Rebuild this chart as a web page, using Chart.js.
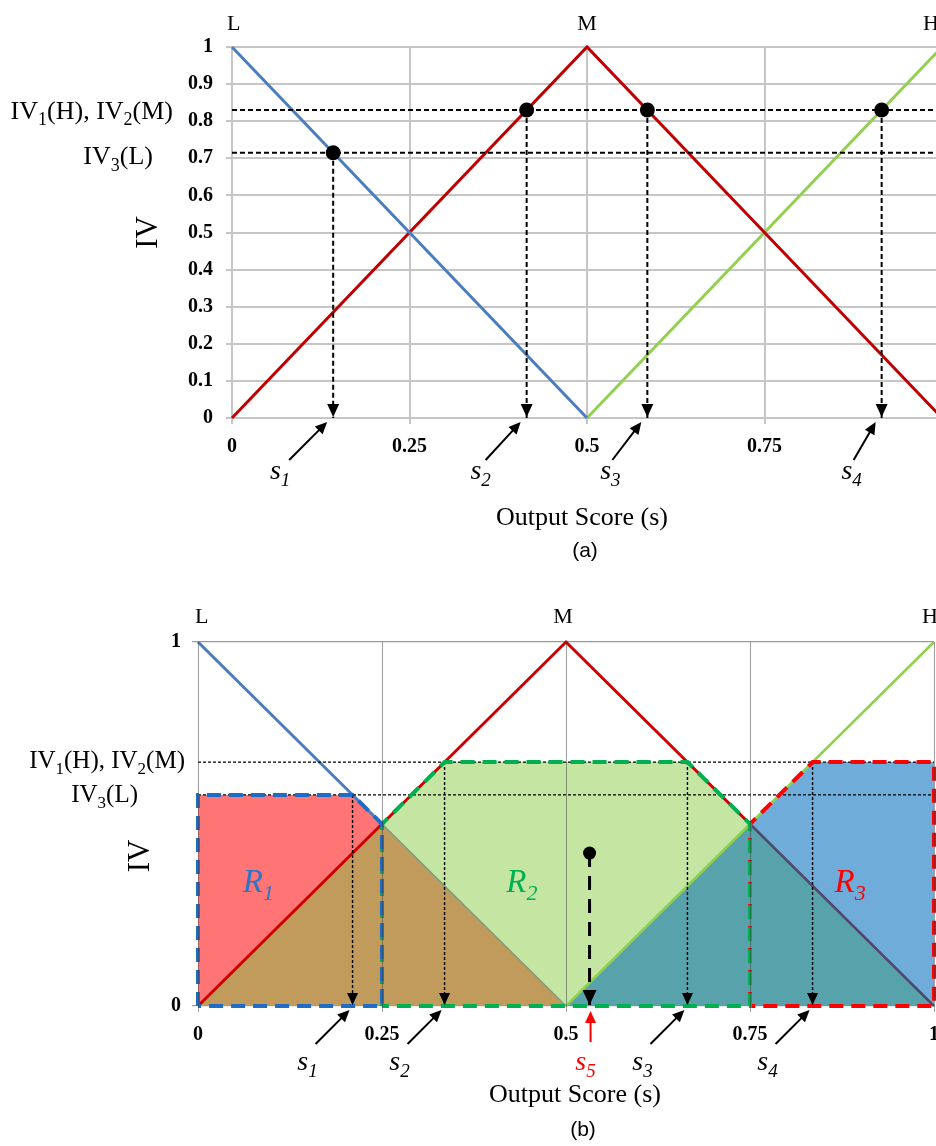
<!DOCTYPE html>
<html>
<head>
<meta charset="utf-8">
<script src="https://cdn.jsdelivr.net/npm/chart.js@4.4.1/dist/chart.umd.min.js"></script>
<style>
  html, body { margin: 0; padding: 0; background: #fff; overflow: hidden; width: 936px; height: 1146px; }
  canvas { position: absolute; left: 0; }
  #chart-a { top: 0; }
  #chart-b { top: 575px; }
</style>
</head>
<body>
<canvas id="chart-a" width="970" height="575"></canvas>
<canvas id="chart-b" width="970" height="571"></canvas>
<script>
'use strict';

// ── Axes ────────────────────────────────────────────────
const xTicks       = [0, 0.25, 0.5, 0.75, 1];
const xTickLabels  = ['0', '0.25', '0.5', '0.75', '1'];
const yTicksA      = [0, 0.1, 0.2, 0.3, 0.4, 0.5, 0.6, 0.7, 0.8, 0.9, 1];
const yTickLabelsA = ['0', '0.1', '0.2', '0.3', '0.4', '0.5', '0.6', '0.7', '0.8', '0.9', '1'];
const yTicksB      = [0, 1];
const yTickLabelsB = ['0', '1'];

// ── Membership functions (corner points, incl. crossings) ──
const setNames = ['L', 'M', 'H'];
const setPeaks = [0, 0.5, 1];
const lowX  = [0, 0.25, 0.5];       const lowY  = [1, 0.5, 0];
const midX  = [0, 0.5, 0.75, 1];    const midY  = [0, 1, 0.5, 0];
const highX = [0.5, 1];             const highY = [0, 1];

// ── Panel (a) ───────────────────────────────────────────
const ivA        = [0.83, 0.715];            // IV1(H)=IV2(M), IV3(L)
const scoreA     = [0.1425, 0.415, 0.585, 0.915];
const scoreIvA   = [0.715, 0.83, 0.83, 0.83];
const scoreSubA  = ['1', '2', '3', '4'];

// ── Panel (b) ───────────────────────────────────────────
const ivB        = [0.67, 0.58];
const scoreB     = [0.21, 0.335, 0.665, 0.835];
const scoreIvB   = [0.58, 0.67, 0.67, 0.67];
const scoreSubB  = ['1', '2', '3', '4'];
const centroidX  = 0.532;
const centroidY  = 0.42;

// rule regions R1..R3 (outline corners)
const r1X = [0, 0, 0.21, 0.25, 0.25, 0];             const r1Y = [0, 0.58, 0.58, 0.5, 0, 0];
const r2X = [0.25, 0.25, 0.335, 0.665, 0.75, 0.75, 0.25]; const r2Y = [0, 0.5, 0.67, 0.67, 0.5, 0, 0];
const r3X = [0.75, 0.75, 0.835, 1, 1, 0.75];         const r3Y = [0, 0.5, 0.67, 0.67, 0, 0];
const ruleNames  = ['1', '2', '3'];
const ruleLabelX = [0.082, 0.44, 0.886];
const ruleLabelY = [0.344, 0.344, 0.344];

// clipped memberships and their overlaps
const fillLowX  = [0, 0, 0.21, 0.5];      const fillLowY  = [0, 0.58, 0.58, 0];
const fillMidX  = [0, 0.335, 0.665, 1];   const fillMidY  = [0, 0.67, 0.67, 0];
const fillHighX = [0.5, 0.835, 1, 1];     const fillHighY = [0, 0.67, 0.67, 0];
const lapLMX    = [0, 0.25, 0.5];         const lapLMY    = [0, 0.5, 0];
const lapMHX    = [0.5, 0.75, 1];         const lapMHY    = [0, 0.5, 0];

// ── Helpers ─────────────────────────────────────────────
const SERIF = '"Liberation Serif", "Times New Roman", serif';
const pts = (xs, ys) => xs.map((x, i) => ({ x, y: ys[i] }));

function line(data, color, width, extra) {
  return Object.assign({
    data, borderColor: color, borderWidth: width, pointRadius: 0,
    fill: false, tension: 0, clip: false,
  }, extra || {});
}

function area(data, color, order) {
  return { data, backgroundColor: color, borderWidth: 0, pointRadius: 0, fill: 'origin', tension: 0, order };
}

function arrowHead(ctx, x, y, ang, len, half, color) {
  ctx.save();
  ctx.translate(x, y);
  ctx.rotate(ang);
  ctx.beginPath();
  ctx.moveTo(0, 0);
  ctx.lineTo(-len, -half);
  ctx.lineTo(-len, half);
  ctx.closePath();
  ctx.fillStyle = color;
  ctx.fill();
  ctx.restore();
}

function arrow(ctx, x0, y0, x1, y1, color, width) {
  const ang = Math.atan2(y1 - y0, x1 - x0);
  ctx.save();
  ctx.strokeStyle = color;
  ctx.lineWidth = width;
  ctx.setLineDash([]);
  ctx.beginPath();
  ctx.moveTo(x0, y0);
  ctx.lineTo(x1 - 8 * Math.cos(ang), y1 - 8 * Math.sin(ang));
  ctx.stroke();
  ctx.restore();
  arrowHead(ctx, x1, y1, ang, 12, 5.5, color);
}

// segs: [text, isSubscript]; y is the vertical centre of capitals
function drawRich(ctx, segs, x, y, size, align, color, italic) {
  const st = italic ? 'italic ' : '';
  const fontFor = sub => `${st}${sub ? Math.round(size * 0.68) : size}px ${SERIF}`;
  let total = 0;
  segs.forEach(([t, sub]) => { ctx.font = fontFor(sub); total += ctx.measureText(t).width; });
  let cx = align === 'right' ? x - total : align === 'center' ? x - total / 2 : x;
  ctx.fillStyle = color;
  ctx.textAlign = 'left';
  ctx.textBaseline = 'alphabetic';
  const base = y + size * 0.33;
  segs.forEach(([t, sub]) => {
    ctx.font = fontFor(sub);
    ctx.fillText(t, cx, base + (sub ? size * 0.24 : 0));
    cx += ctx.measureText(t).width;
  });
}

function drawText(ctx, text, x, y, font, align, color) {
  ctx.font = font;
  ctx.fillStyle = color || '#000';
  ctx.textAlign = align || 'center';
  ctx.textBaseline = 'middle';
  ctx.fillText(text, x, y);
}

function axes(yTicks, yLabels, grid, sizes) {
  return {
    x: {
      type: 'linear', min: 0, max: 1,
      afterBuildTicks: s => { s.ticks = xTicks.map(v => ({ value: v })); },
      afterFit: s => { s.height = 40; },
      ticks: {
        callback: (v, i) => xTickLabels[i], padding: 11, maxRotation: 0, autoSkip: false,
        color: '#000', font: { family: SERIF, size: 20, weight: 'bold' },
      },
      grid: Object.assign({ tickLength: 6 }, grid.x),
      border: grid.border,
    },
    y: {
      type: 'linear', min: 0, max: 1,
      afterBuildTicks: s => { s.ticks = yTicks.map(v => ({ value: v })); },
      afterFit: s => { s.width = sizes.yWidth; },
      ticks: {
        callback: (v, i) => yLabels[i], padding: sizes.yPad, autoSkip: false,
        color: '#000', font: { family: SERIF, size: 20, weight: 'bold' },
      },
      grid: Object.assign({ tickLength: 6 }, grid.y),
      border: grid.border,
    },
  };
}

// ── Panel (a) ───────────────────────────────────────────
const tailShiftA  = [-44, -41, -35, -28];
const labelShiftA = [-53, -46, -37, -30];

const panelA = {
  id: 'panelA',
  afterDatasetsDraw(chart) {
    const { ctx, scales: { x, y } } = chart;
    scoreA.forEach(s => arrowHead(ctx, x.getPixelForValue(s), y.getPixelForValue(0) - 1, Math.PI / 2, 13, 6, '#000'));
  },
  afterDraw(chart) {
    const { ctx, chartArea: ca, scales: { x, y } } = chart;
    ctx.save();
    const align = ['left', 'center', 'right'], shift = [-5, 0, -3];
    setNames.forEach((n, i) =>
      drawText(ctx, n, x.getPixelForValue(setPeaks[i]) + shift[i], ca.top - 23, `22px ${SERIF}`, align[i]));

    drawRich(ctx, [['IV', 0], ['1', 1], ['(H), IV', 0], ['2', 1], ['(M)', 0]],
      ca.left - 59, y.getPixelForValue(ivA[0]), 26, 'right', '#000', false);
    drawRich(ctx, [['IV', 0], ['3', 1], ['(L)', 0]],
      ca.left - 79, y.getPixelForValue(ivA[1]) + 3, 26, 'right', '#000', false);

    ctx.save();
    ctx.translate(ca.left - 83, (ca.top + ca.bottom) / 2);
    ctx.rotate(-Math.PI / 2);
    drawText(ctx, 'IV', 0, 0, `31px ${SERIF}`, 'center');
    ctx.restore();

    const ay = ca.bottom;
    scoreA.forEach((s, i) => {
      const sx = x.getPixelForValue(s);
      arrow(ctx, sx + tailShiftA[i], ay + 42, sx - 6, ay + 4, '#000', 2);
      drawRich(ctx, [['s', 0], [scoreSubA[i], 1]], sx + labelShiftA[i], ay + 52, 28, 'center', '#000', true);
    });

    const mid = (ca.left + ca.right) / 2;
    drawText(ctx, 'Output Score (s)', mid - 5, ay + 100, `26px ${SERIF}`, 'center');
    drawText(ctx, '(a)', mid - 2, ay + 133, '21px "Liberation Sans", Arial, sans-serif', 'center');
    ctx.restore();
  },
};

new Chart(document.getElementById('chart-a'), {
  type: 'line',
  data: {
    datasets: [
      line(pts(scoreA, scoreIvA), '#000', 0, { showLine: false, pointRadius: 7.5, pointBackgroundColor: '#000', pointBorderWidth: 0, order: 1 }),
      ...ivA.map(v => line(pts([0, 1], [v, v]), '#000', 2, { borderDash: [5, 3], order: 2 })),
      ...scoreA.map((s, i) => line(pts([s, s], [scoreIvA[i], 0]), '#000', 2, { borderDash: [5, 3], order: 2 })),
      line(pts(lowX, lowY), '#4a7dbf', 3, { order: 3 }),
      line(pts(midX, midY), '#c00000', 3, { order: 3 }),
      line(pts(highX, highY), '#92d050', 3, { order: 3 }),
    ],
  },
  options: {
    responsive: false,
    animation: false,
    layout: { padding: { top: 47, right: 28, left: 0, bottom: 117 } },
    plugins: { legend: { display: false }, tooltip: { enabled: false } },
    scales: axes(yTicksA, yTickLabelsA, {
      x: { color: '#c6c6c6', lineWidth: 2 },
      y: { color: '#c6c6c6', lineWidth: 2 },
      border: { color: '#c6c6c6', width: 2 },
    }, { yWidth: 232, yPad: 13 }),
  },
  plugins: [panelA],
});

// ── Panel (b) ───────────────────────────────────────────
const panelB = {
  id: 'panelB',
  afterDatasetsDraw(chart) {
    const { ctx, scales: { x, y } } = chart;
    const y0 = y.getPixelForValue(0);
    scoreB.forEach(s => arrowHead(ctx, x.getPixelForValue(s), y0 - 1, Math.PI / 2, 12, 5.5, '#000'));
    arrowHead(ctx, x.getPixelForValue(centroidX), y0 - 1, Math.PI / 2, 15, 7, '#000');
  },
  afterDraw(chart) {
    const { ctx, chartArea: ca, scales: { x, y } } = chart;
    ctx.save();
    const align = ['left', 'center', 'right'], shift = [-3, -3, 4];
    setNames.forEach((n, i) =>
      drawText(ctx, n, x.getPixelForValue(setPeaks[i]) + shift[i], ca.top - 25, `22px ${SERIF}`, align[i]));

    drawRich(ctx, [['IV', 0], ['1', 1], ['(H), IV', 0], ['2', 1], ['(M)', 0]],
      ca.left - 13, y.getPixelForValue(ivB[0]) - 2, 25, 'right', '#000', false);
    drawRich(ctx, [['IV', 0], ['3', 1], ['(L)', 0]],
      ca.left - 60, y.getPixelForValue(ivB[1]) - 1, 25, 'right', '#000', false);

    ctx.save();
    ctx.translate(ca.left - 57, (ca.top + ca.bottom) / 2 + 32);
    ctx.rotate(-Math.PI / 2);
    drawText(ctx, 'IV', 0, 0, `31px ${SERIF}`, 'center');
    ctx.restore();

    const ruleColors = ['#2e74c6', '#00b050', '#ff0000'];
    ruleNames.forEach((n, i) =>
      drawRich(ctx, [['R', 0], [n, 1]], x.getPixelForValue(ruleLabelX[i]), y.getPixelForValue(ruleLabelY[i]),
        33, 'center', ruleColors[i], true));

    const ay = ca.bottom;
    scoreB.forEach((s, i) => {
      const sx = x.getPixelForValue(s);
      arrow(ctx, sx - 37, ay + 38, sx - 3, ay + 4, '#000', 2);
      drawRich(ctx, [['s', 0], [scoreSubB[i], 1]], sx - 45, ay + 55, 28, 'center', '#000', true);
    });
    const cx = x.getPixelForValue(centroidX);
    arrow(ctx, cx + 1, ay + 36, cx + 1, ay + 5, '#ff0000', 2);
    drawRich(ctx, [['s', 0], ['5', 1]], cx - 4, ay + 55, 28, 'center', '#ff0000', true);

    const mid = (ca.left + ca.right) / 2;
    drawText(ctx, 'Output Score (s)', mid + 9, ay + 89, `26px ${SERIF}`, 'center');
    drawText(ctx, '(b)', mid + 17, ay + 124, '21px "Liberation Sans", Arial, sans-serif', 'center');
    ctx.restore();
  },
};

new Chart(document.getElementById('chart-b'), {
  type: 'line',
  data: {
    datasets: [
      line([{ x: centroidX, y: centroidY }], '#000', 0, { showLine: false, pointRadius: 6.5, pointBackgroundColor: '#000', pointBorderWidth: 0, order: 1 }),
      line(pts([centroidX, centroidX], [centroidY, 0]), '#000', 3, { borderDash: [14, 9], order: 2 }),
      line(pts(r1X, r1Y), '#1f6cc4', 4, { borderDash: [14, 8], order: 3 }),
      line(pts(r2X, r2Y), '#00b050', 4, { borderDash: [14, 8], order: 3 }),
      line(pts(r3X, r3Y), '#ff0000', 4, { borderDash: [14, 8], order: 3 }),
      ...ivB.map(v => line(pts([0, 1], [v, v]), '#000', 1.4, { borderDash: [3, 2], order: 4 })),
      ...scoreB.map((s, i) => line(pts([s, s], [scoreIvB[i], 0]), '#000', 1.4, { borderDash: [3, 2], order: 4 })),
      line(pts(lowX.slice(0, 2), lowY.slice(0, 2)), '#4a7dbf', 3, { order: 5 }),
      line(pts(lowX.slice(1), lowY.slice(1)), '#7d9c83', 1.5, { order: 5 }),
      line(pts(midX.slice(0, 3), midY.slice(0, 3)), '#cc0000', 3, { order: 5 }),
      line(pts(midX.slice(2), midY.slice(2)), '#4d4a6c', 2.5, { order: 5 }),
      line(pts(highX, highY), '#8fd14f', 2.5, { order: 5 }),
      area(pts(lapMHX, lapMHY), '#58a3ab', 10),
      area(pts(lapLMX, lapLMY), '#c09b5b', 11),
      area(pts(fillHighX, fillHighY), '#70acd9', 12),
      area(pts(fillMidX, fillMidY), '#c4e6a2', 13),
      area(pts(fillLowX, fillLowY), '#ff7474', 14),
    ],
  },
  options: {
    responsive: false,
    animation: false,
    layout: { padding: { top: 67, right: 36, left: 0, bottom: 100 } },
    plugins: { legend: { display: false }, tooltip: { enabled: false } },
    scales: axes(yTicksB, yTickLabelsB, {
      x: { color: 'rgba(60,60,60,0.5)', lineWidth: 1, z: 1 },
      y: { color: '#9a9a9a', lineWidth: 1.2 },
      border: { display: false },
    }, { yWidth: 198, yPad: 11 }),
  },
  plugins: [panelB],
});
</script>
</body>
</html>
